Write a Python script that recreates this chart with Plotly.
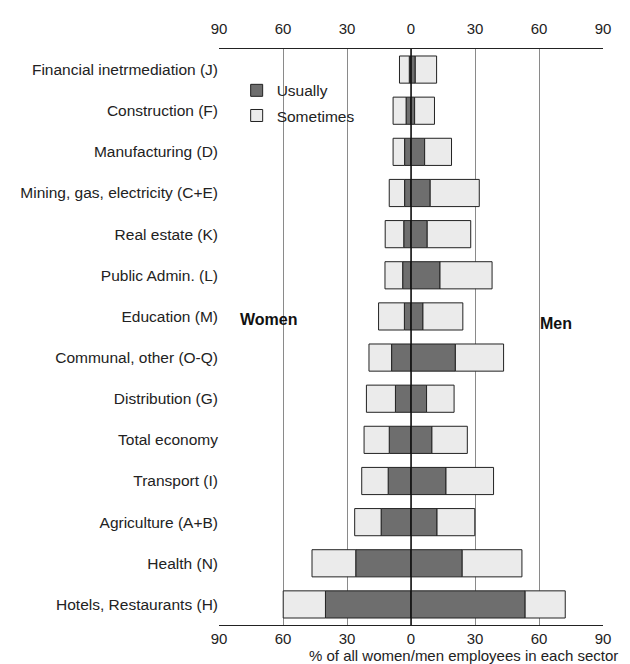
import plotly.graph_objects as go

# sectors, top to bottom
sectors = ["Financial inetrmediation (J)", "Construction (F)", "Manufacturing (D)",
           "Mining, gas, electricity (C+E)", "Real estate (K)", "Public Admin. (L)",
           "Education (M)", "Communal, other (O-Q)", "Distribution (G)", "Total economy",
           "Transport (I)", "Agriculture (A+B)", "Health (N)", "Hotels, Restaurants (H)"]

# % of women / men, usually and sometimes
women_usually = [0.8, 2.3, 3.0, 3.0, 3.4, 3.9, 3.1, 9.1, 7.3, 10.2, 10.7, 14.0, 25.9, 40.1]
women_sometimes = [4.6, 6.1, 5.4, 7.2, 8.7, 8.3, 12.1, 10.6, 13.6, 11.8, 12.4, 12.4, 20.5, 19.8]
men_usually = [2.0, 1.7, 6.4, 9.0, 7.6, 13.6, 5.6, 20.8, 7.3, 9.8, 16.4, 12.2, 24.0, 53.5]
men_sometimes = [10.0, 9.3, 12.6, 23.0, 20.4, 24.4, 18.7, 22.6, 12.9, 16.6, 22.3, 17.7, 28.0, 18.8]

tick_vals = [-90, -60, -30, 0, 30, 60, 90]
tick_text = ["90", "60", "30", "0", "30", "60", "90"]

dark = "#6e6e6e"
light = "#ebebeb"
edge = "#222222"
fnt = "Liberation Sans, Arial"

fig = go.Figure()
fig.add_trace(go.Bar(y=sectors, x=[-v for v in women_usually], orientation="h", name="Usually",
                     marker=dict(color=dark, line=dict(color=edge, width=1)), legendgroup="u"))
fig.add_trace(go.Bar(y=sectors, x=[-v for v in women_sometimes], orientation="h", name="Sometimes",
                     marker=dict(color=light, line=dict(color=edge, width=1)), legendgroup="s"))
fig.add_trace(go.Bar(y=sectors, x=men_usually, orientation="h", name="Usually", showlegend=False,
                     marker=dict(color=dark, line=dict(color=edge, width=1)), legendgroup="u"))
fig.add_trace(go.Bar(y=sectors, x=men_sometimes, orientation="h", name="Sometimes", showlegend=False,
                     marker=dict(color=light, line=dict(color=edge, width=1)), legendgroup="s"))
# dummy trace so the top axis gets drawn
fig.add_trace(go.Scatter(x=[0], y=[sectors[0]], xaxis="x2", mode="markers",
                         marker=dict(opacity=0, size=1), showlegend=False, hoverinfo="skip"))

axis_font = dict(family=fnt, size=15.5, color="#222")
tick_font = dict(family=fnt, size=15, color="#222")

# page body adds an 8px offset, so the figure is a bit smaller than the window
fig.update_layout(
    width=622, height=656,
    margin=dict(l=208, r=27, t=38, b=39),
    barmode="relative",
    bargap=0.34,
    plot_bgcolor="white",
    paper_bgcolor="white",
    font=axis_font,
    xaxis=dict(range=[-90, 90], tickvals=tick_vals, ticktext=tick_text, showgrid=True,
               gridcolor="#8a8a8a", gridwidth=1, zeroline=False, showline=True, linecolor="#222",
               linewidth=1, mirror=True, ticks="", tickfont=tick_font, ticklabelstandoff=0),
    xaxis2=dict(range=[-90, 90], tickvals=tick_vals, ticktext=tick_text, overlaying="x",
                side="top", showgrid=False, zeroline=False, ticks="", tickfont=tick_font,
                ticklabelstandoff=11),
    yaxis=dict(categoryorder="array", categoryarray=sectors, range=[13.5, -0.5],
               showgrid=False, ticks="", tickfont=axis_font, ticklabelstandoff=0),
    legend=dict(x=0.046, y=0.957, xanchor="left", yanchor="top", bgcolor="rgba(0,0,0,0)",
                font=dict(family=fnt, size=15.5, color="#222"), tracegroupgap=2),
    shapes=[dict(type="line", xref="x", yref="paper", x0=0, x1=0, y0=0, y1=1,
                 line=dict(color="#111", width=1.5), layer="above")],
    annotations=[
        dict(text="<b>Women</b>", x=-67, y="Education (M)", xref="x", yref="y", yshift=-3,
             showarrow=False, font=dict(family=fnt, size=16, color="#111")),
        dict(text="<b>Men</b>", x=68, y="Education (M)", xref="x", yref="y", yshift=-7,
             showarrow=False, font=dict(family=fnt, size=16, color="#111")),
        dict(text="% of all women/men employees in each sector", xref="paper", yref="paper",
             x=1.044, y=-0.0345, xanchor="right", yanchor="top", showarrow=False,
             font=dict(family=fnt, size=15, color="#222")),
    ],
)

fig.write_html("out.html")
